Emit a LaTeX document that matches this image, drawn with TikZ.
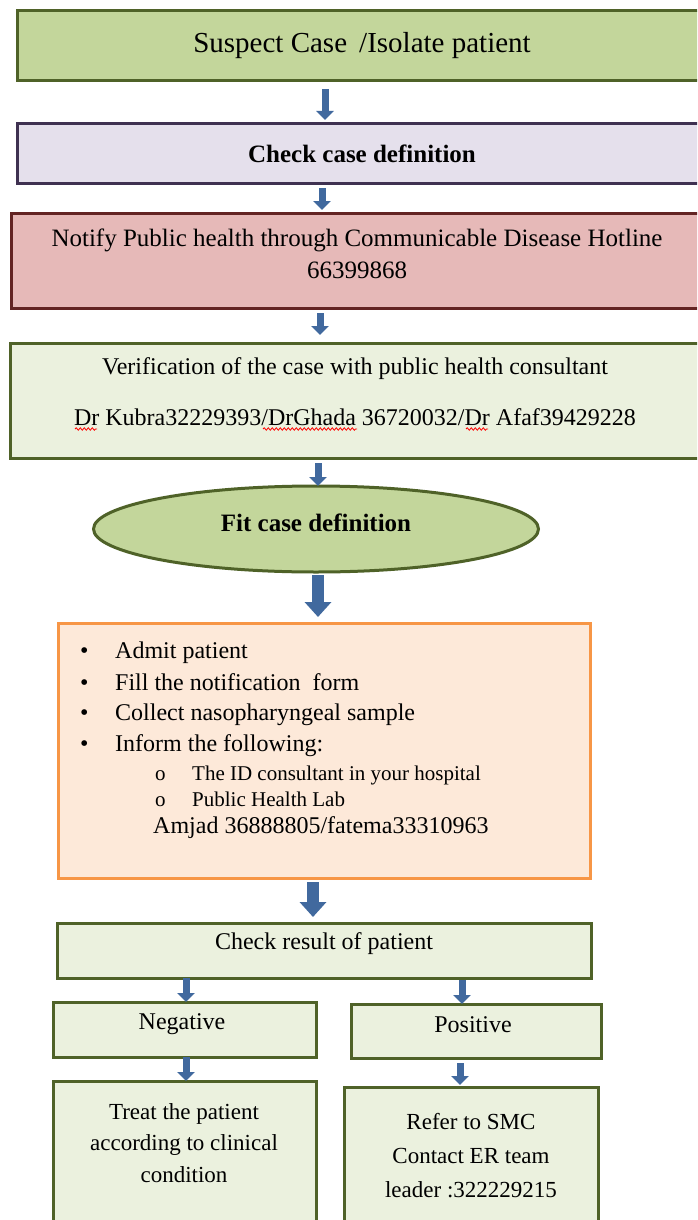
\documentclass[tikz,border=0pt]{standalone}
\usepackage{fontspec}
\setmainfont{Liberation Serif}
\usetikzlibrary{arrows.meta,positioning,shapes.geometric,decorations.pathmorphing}

\definecolor{oliveline}{HTML}{4F6228}
\definecolor{palegreen}{HTML}{EBF1DE}
\definecolor{limegreen}{HTML}{C3D69B}
\definecolor{purpleline}{HTML}{3F3151}
\definecolor{lavender}{HTML}{E5E0EC}
\definecolor{redline}{HTML}{632423}
\definecolor{rosefill}{HTML}{E6B9B8}
\definecolor{orangeline}{HTML}{F79646}
\definecolor{peach}{HTML}{FDE9D9}
\definecolor{arrowblue}{HTML}{41699E}

\tikzset{
  flowbox/.style={rectangle, draw=oliveline, line width=3pt, fill=palegreen,
    inner sep=0pt, outer sep=0pt, align=center, font=\fontsize{24}{28}\selectfont},
  boxtext/.style={inner sep=0pt, align=center, font=\fontsize{24}{28}\selectfont},
  arr/.style={draw=arrowblue, line width=7pt, -{Triangle[length=9pt,width=17pt]}},
  bigarr/.style={draw=arrowblue, line width=12pt, -{Triangle[length=15pt,width=26pt]}},
  listitem/.style={anchor=base west, inner sep=0pt, font=\fontsize{24}{28}\selectfont},
  subitem/.style={listitem, font=\fontsize{21}{26}\selectfont},
  squiggle/.style={draw=red, line width=0.8pt, decorate,
    decoration={snake, amplitude=1.2pt, segment length=4pt}}
}

\begin{document}
\begin{tikzpicture}[x=1pt, y=-1pt]
    \useasboundingbox (0,0) rectangle (697,1220);
    \clip (0,0) rectangle (697,1220);

    % Top of the chart (boxes run past the right edge)
    \node[flowbox, fill=limegreen, minimum width=690pt, minimum height=70pt,
          font=\fontsize{29}{34}\selectfont] (suspect) at (362,46) {Suspect Case \,/Isolate patient};
    \node[flowbox, draw=purpleline, fill=lavender, minimum width=690pt, minimum height=59pt,
          font=\bfseries\fontsize{25}{30}\selectfont] (casedef) at (362,153.5) {Check case definition};
    \node[flowbox, draw=redline, fill=rosefill, minimum width=692pt, minimum height=95pt] (notify) at (357,260.5) {};
    \node[boxtext, font=\fontsize{25}{32}\selectfont] (notifytxt) at (357,254)
        {Notify Public health through Communicable Disease Hotline\\66399868};
    \node[flowbox, minimum width=690pt, minimum height=115pt] (verify) at (355,400.5) {};
    \node[boxtext] (verifytxt) at (355,392)
        {Verification of the case with public health consultant\\[23pt]
         Dr Kubra32229393/DrGhada 36720032/Dr Afaf39429228};

    % Spell-check marks under the names
    \draw[squiggle] (75,429) -- (97,429);
    \draw[squiggle] (263,429) -- (357,429);
    \draw[squiggle] (466,429) -- (488,429);

    \node[flowbox, ellipse, fill=limegreen, minimum width=445pt, minimum height=86pt] (fitdef) at (316,529) {};
    \node[boxtext, font=\bfseries\fontsize{25}{30}\selectfont] (fittxt) at (316,523) {Fit case definition};

    % What to do once the definition fits
    \node[flowbox, draw=orangeline, fill=peach, minimum width=532pt, minimum height=255pt] (todo) at (324,750.5) {};
    \node[listitem] (item1) at (80,658) {\makebox[35pt][l]{\textbullet}Admit patient};
    \node[listitem] (item2) at (80,690) {\makebox[35pt][l]{\textbullet}Fill the notification \ form};
    \node[listitem] (item3) at (80,720) {\makebox[35pt][l]{\textbullet}Collect nasopharyngeal sample};
    \node[listitem] (item4) at (80,751) {\makebox[35pt][l]{\textbullet}Inform the following:};
    \node[subitem] (item5) at (155,780) {\makebox[37pt][l]{o}The ID consultant in your hospital};
    \node[subitem] (item6) at (155,806) {\makebox[37pt][l]{o}Public Health Lab};
    \node[listitem] (item7) at (153,833) {Amjad 36888805/fatema33310963};

    % Result and the two branches
    \node[flowbox, minimum width=534pt, minimum height=55pt] (result) at (324,950.5) {};
    \node[boxtext] (resulttxt) at (324,944) {Check result of patient};
    \node[flowbox, minimum width=263pt, minimum height=55pt] (negative) at (184.5,1029.5) {};
    \node[boxtext] (negtxt) at (182,1024) {Negative};
    \node[flowbox, minimum width=250pt, minimum height=54pt] (positive) at (476,1031) {};
    \node[boxtext] (postxt) at (473,1025) {Positive};
    \node[flowbox, minimum width=263pt, minimum height=159pt] (treat) at (184.5,1160.5) {};
    \node[boxtext, font=\fontsize{23}{31.5}\selectfont] (treattxt) at (184,1143)
        {Treat the patient\\according to clinical\\condition};
    \node[flowbox, minimum width=254pt, minimum height=153pt] (refer) at (471,1163.5) {};
    \node[boxtext, font=\fontsize{23}{34}\selectfont] (refertxt) at (471,1156)
        {Refer to SMC\\Contact ER team\\leader :322229215};

    % Arrows
    \draw[arr, shorten <=8pt, shorten >=4pt] ([xshift=-37pt]suspect.south) -- ([xshift=-37pt]casedef.north);
    \draw[arr, shorten <=5pt, shorten >=3pt] ([xshift=-40pt]casedef.south) -- ([xshift=-35pt]notify.north);
    \draw[arr, shorten <=5pt, shorten >=8pt] ([xshift=-37pt]notify.south) -- ([xshift=-35pt]verify.north);
    \draw[arr, shorten <=5pt] ([xshift=-37pt]verify.south) -- ([xshift=2pt]fitdef.north);
    \draw[bigarr, shorten <=3pt, shorten >=6pt] ([xshift=2pt]fitdef.south) -- ([xshift=-6pt]todo.north);
    \draw[bigarr, shorten <=4pt, shorten >=6pt] ([xshift=-11pt]todo.south) -- ([xshift=-11pt]result.north);
    \draw[arr] ([xshift=-138pt]result.south) -- ([xshift=1.5pt]negative.north);
    \draw[arr, shorten <=2pt] ([xshift=138pt]result.south) -- ([xshift=-14pt]positive.north);
    \draw[arr] ([xshift=1.5pt]negative.south) -- ([xshift=1.5pt]treat.north);
    \draw[arr, shorten <=5pt, shorten >=2pt] ([xshift=-16pt]positive.south) -- ([xshift=-11pt]refer.north);
\end{tikzpicture}
\end{document}
